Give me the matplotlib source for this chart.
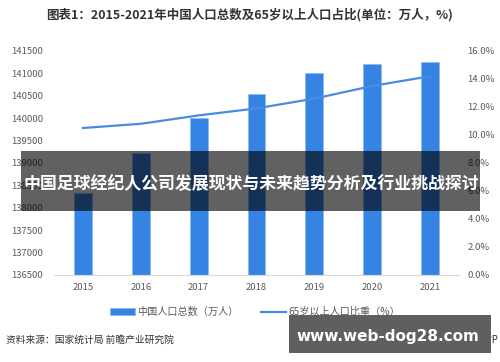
import numpy as np
import matplotlib.pyplot as plt
from matplotlib.patches import Rectangle

plt.rcParams['font.family'] = ['Noto Sans CJK SC', 'DejaVu Sans']

years = ['2015', '2016', '2017', '2018', '2019', '2020', '2021']
population = [138326, 139232, 140011, 140541, 141008, 141212, 141260]
elderly_share = [10.5, 10.8, 11.4, 11.9, 12.6, 13.5, 14.2]

bar_color = '#3584e4'
line_color = '#4a8be2'
text_gray = '#595959'

fig = plt.figure(figsize=(5, 3.62), dpi=100)
ax = fig.add_axes([54 / 500, 87 / 362, 405 / 500, 224 / 362])
x = np.arange(len(years))

ax.bar(x, population, 0.31, color=bar_color, edgecolor='#8ab8f0', linewidth=0.5,
       label='中国人口总数（万人）', zorder=2)
ax.set_ylim(136500, 141500)
ax.set_yticks(np.arange(136500, 141501, 500))
ax.set_xlim(-0.5, len(years) - 0.5)
ax.set_xticks(x)
ax.set_xticklabels(years)

ax2 = ax.twinx()
ax2.plot(x, elderly_share, color=line_color, linewidth=1.6, label='65岁以上人口比重（%）', zorder=3)
ax2.set_ylim(0, 16)
ax2.set_yticks(np.arange(0, 16.1, 2))
ax2.set_yticklabels(['{:.1f}%'.format(v) for v in np.arange(0, 16.1, 2)])

for a in (ax, ax2):
    for s in a.spines.values():
        s.set_visible(False)
    a.tick_params(length=0, labelsize=6.8, colors=text_gray)
ax.spines['bottom'].set_visible(True)
ax.spines['bottom'].set_color('#d9d9d9')
ax.tick_params(axis='y', pad=8)
ax.tick_params(axis='x', pad=6)
ax2.tick_params(axis='y', pad=6)

fig.text(0.5, 1 - 15 / 362, '图表1：2015-2021年中国人口总数及65岁以上人口占比(单位：万人，%)',
         ha='center', va='center', fontsize=9, fontweight='bold', color='#333333')

h1, l1 = ax.get_legend_handles_labels()
h2, l2 = ax2.get_legend_handles_labels()
fig.legend(h1 + h2, l1 + l2, loc='center', bbox_to_anchor=(0.51, 1 - 312 / 362), ncol=2,
           frameon=False, fontsize=7.3, labelcolor=text_gray, handlelength=2.5,
           handletextpad=0.2, columnspacing=2.2)

fig.text(6 / 500, 1 - 340 / 362, '资料来源：国家统计局 前瞻产业研究院', ha='left', va='center',
         fontsize=7, color='#333333')
fig.text(498 / 500, 1 - 340 / 362, '制图：前瞻经济学人APP', ha='right', va='center',
         fontsize=7, color='#333333')

# dark overlay band with headline
fig.patches.append(Rectangle((21 / 500, 151 / 362), 459 / 500, 60 / 362, transform=fig.transFigure,
                             facecolor='black', alpha=0.62, zorder=10))
fig.text(251 / 500, 1 - 184 / 362, '中国足球经纪人公司发展现状与未来趋势分析及行业挑战探讨',
         ha='center', va='center', fontsize=12.2, fontweight='bold', color='white', zorder=11)

# watermark box bottom right
fig.patches.append(Rectangle((289 / 500, 1 - 353 / 362), 202 / 500, 38 / 362, transform=fig.transFigure,
                             facecolor='#5f5f5f', zorder=10))
fig.text(388 / 500, 1 - 336 / 362, 'www.web-dog28.com', ha='center', va='center',
         fontsize=11, fontweight='bold', color='white', family='DejaVu Sans', zorder=11)

fig.savefig('out.png', dpi=100)
